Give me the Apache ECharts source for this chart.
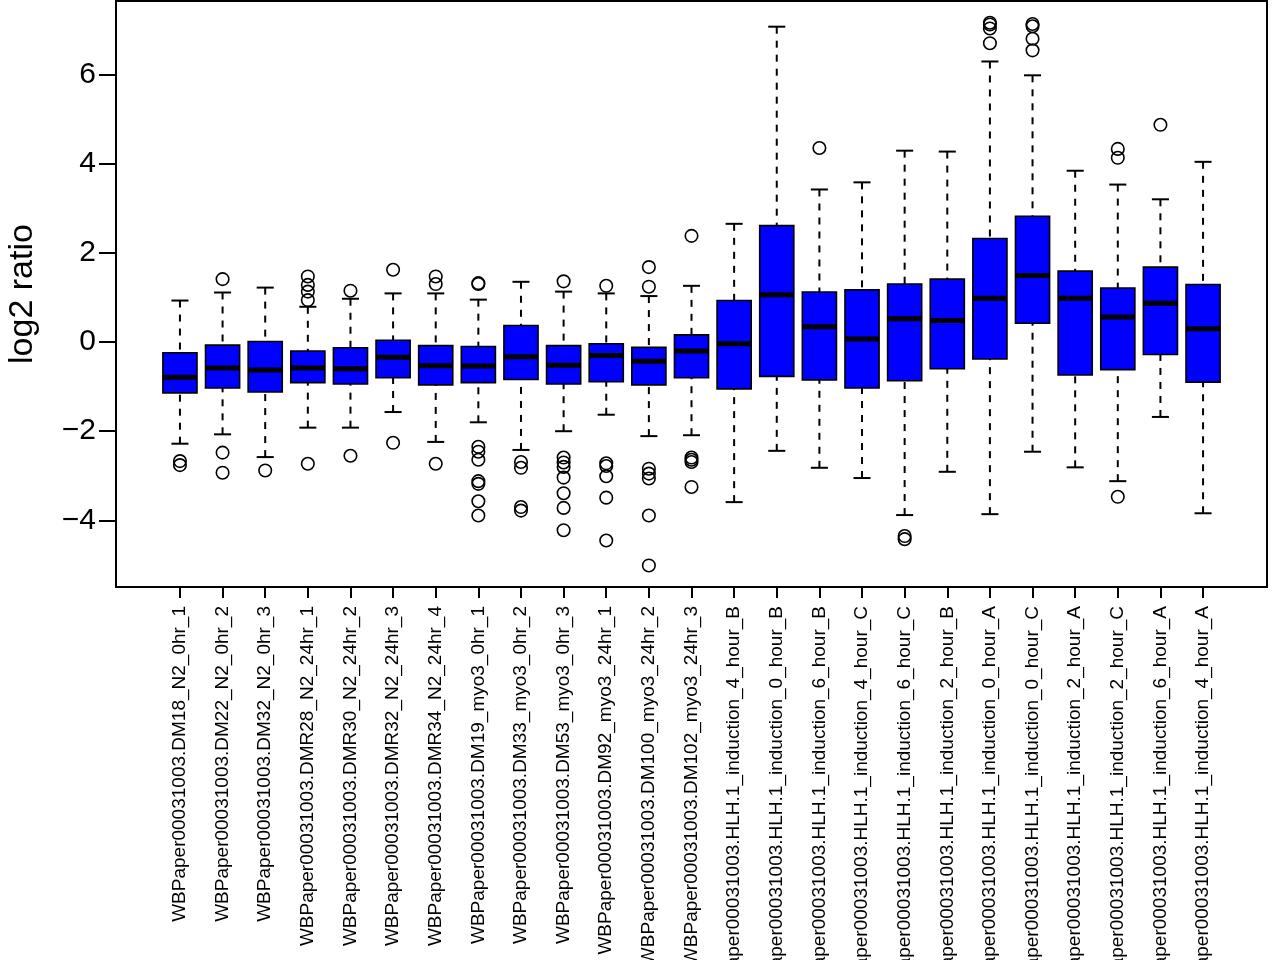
<!DOCTYPE html>
<html>
<head>
<meta charset="utf-8">
<script src="https://cdn.jsdelivr.net/npm/echarts@6.0.0/dist/echarts.min.js"></script>
<style>
html,body{margin:0;padding:0;background:#fff;}
#chart{width:1277px;height:960px;}
</style>
</head>
<body>
<div id="chart"></div>
<script>
var categories = [
  "WBPaper00031003.DM18_N2_0hr_1",
  "WBPaper00031003.DM22_N2_0hr_2",
  "WBPaper00031003.DM32_N2_0hr_3",
  "WBPaper00031003.DMR28_N2_24hr_1",
  "WBPaper00031003.DMR30_N2_24hr_2",
  "WBPaper00031003.DMR32_N2_24hr_3",
  "WBPaper00031003.DMR34_N2_24hr_4",
  "WBPaper00031003.DM19_myo3_0hr_1",
  "WBPaper00031003.DM33_myo3_0hr_2",
  "WBPaper00031003.DM53_myo3_0hr_3",
  "WBPaper00031003.DM92_myo3_24hr_1",
  "WBPaper00031003.DM100_myo3_24hr_2",
  "WBPaper00031003.DM102_myo3_24hr_3",
  "WBPaper00031003.HLH.1_induction_4_hour_B",
  "WBPaper00031003.HLH.1_induction_0_hour_B",
  "WBPaper00031003.HLH.1_induction_6_hour_B",
  "WBPaper00031003.HLH.1_induction_4_hour_C",
  "WBPaper00031003.HLH.1_induction_6_hour_C",
  "WBPaper00031003.HLH.1_induction_2_hour_B",
  "WBPaper00031003.HLH.1_induction_0_hour_A",
  "WBPaper00031003.HLH.1_induction_0_hour_C",
  "WBPaper00031003.HLH.1_induction_2_hour_A",
  "WBPaper00031003.HLH.1_induction_2_hour_C",
  "WBPaper00031003.HLH.1_induction_6_hour_A",
  "WBPaper00031003.HLH.1_induction_4_hour_A"
];
var whiskerLow  = [-2.28,-2.07,-2.58,-1.92,-1.92,-1.57,-2.24,-1.80,-2.42,-2.00,-1.63,-2.11,-2.09,-3.59,-2.44,-2.82,-3.05,-3.88,-2.91,-3.86,-2.46,-2.81,-3.12,-1.68,-3.84];
var quart1      = [-1.14,-1.03,-1.12,-0.91,-0.94,-0.80,-0.96,-0.91,-0.84,-0.94,-0.89,-0.96,-0.80,-1.05,-0.77,-0.85,-1.03,-0.87,-0.60,-0.38, 0.42,-0.74,-0.62,-0.28,-0.90];
var medians     = [-0.79,-0.58,-0.63,-0.58,-0.60,-0.34,-0.53,-0.54,-0.33,-0.52,-0.30,-0.43,-0.20,-0.04, 1.06, 0.34, 0.07, 0.52, 0.48, 0.98, 1.49, 0.98, 0.56, 0.87, 0.30];
var quart3      = [-0.24,-0.07, 0.01,-0.20,-0.13, 0.04,-0.08,-0.10, 0.37,-0.08,-0.04,-0.12, 0.16, 0.93, 2.61, 1.12, 1.17, 1.30, 1.41, 2.32, 2.82, 1.59, 1.21, 1.68, 1.29];
var whiskerHigh = [ 0.93, 1.11, 1.22, 0.79, 0.97, 1.09, 1.09, 0.95, 1.35, 1.13, 1.09, 1.03, 1.26, 2.65, 7.07, 3.42, 3.58, 4.29, 4.27, 6.29, 5.98, 3.84, 3.53, 3.20, 4.04];
var outliers = [
  [-2.67,-2.76],
  [1.41,-2.48,-2.93],
  [-2.88],
  [1.47,1.28,1.13,0.94,-2.73],
  [1.15,-2.55],
  [1.62,-2.26],
  [1.47,1.30,-2.73],
  [1.32,1.30,-2.35,-2.46,-2.64,-3.12,-3.18,-3.57,-3.89],
  [-2.69,-2.82,-3.70,-3.78],
  [1.36,-2.59,-2.70,-2.80,-3.04,-3.39,-3.72,-4.22],
  [1.26,-2.72,-2.78,-3.01,-3.49,-4.45],
  [1.68,1.24,-2.84,-2.95,-3.06,-3.89,-5.01],
  [2.38,-2.59,-2.64,-2.69,-3.25],
  [],
  [],
  [4.35],
  [],
  [-4.35,-4.42],
  [],
  [7.16,7.12,7.03,6.70],
  [7.13,7.08,6.80,6.54],
  [],
  [4.33,4.13,-3.47],
  [4.87],
  []
];
var yTicks = [-4,-2,0,2,4,6];

// Category slots: one empty slot each side so boxes sit at R positions 1..n inside a padded range
var axisCats = [''].concat(categories).concat(['']);

var boxData = categories.map(function(c, i){
  return [i+1, whiskerLow[i], quart1[i], medians[i], quart3[i], whiskerHigh[i]];
});
var outData = [];
outliers.forEach(function(arr, i){
  arr.forEach(function(v){ outData.push([i+1, v]); });
});

function fmt(v){ return v < 0 ? '\u2212' + Math.abs(v) : String(v); }

var FONT = 'Liberation Sans, Arial, sans-serif';
var chart = echarts.init(document.getElementById('chart'), null, {renderer:'canvas'});
chart.setOption({
  animation: false,
  backgroundColor: '#ffffff',
  textStyle: {fontFamily: FONT, color: '#000'},
  grid: {left: 116, right: 10, top: 1, bottom: 373, containLabel: false, outerBoundsMode: 'none',
    show: true, borderColor: '#000', borderWidth: 2, backgroundColor: 'transparent'},
  xAxis: {
    type: 'category',
    data: axisCats,
    boundaryGap: true,
    axisLine: {show: true, onZero: false, lineStyle: {color: '#000', width: 2}},
    axisTick: {show: true, alignWithLabel: true, length: 11, lineStyle: {color: '#000', width: 2},
      interval: function(idx, val){ return val !== ''; }},
    axisLabel: {interval: 0, rotate: 90, margin: 19, fontSize: 19, color: '#000', fontFamily: FONT},
    splitLine: {show: false}
  },
  yAxis: {
    type: 'value',
    min: -5.493,
    max: 7.646,
    name: 'log2 ratio',
    nameLocation: 'middle',
    nameRotate: 90,
    nameGap: 76,
    nameTextStyle: {fontSize: 34, color: '#000', fontFamily: FONT},
    axisLine: {show: true, lineStyle: {color: '#000', width: 2}},
    axisTick: {show: true, length: 17, lineStyle: {color: '#000', width: 2}, customValues: yTicks},
    axisLabel: {customValues: yTicks, formatter: fmt, margin: 20, fontSize: 30, color: '#000', fontFamily: FONT},
    splitLine: {show: false}
  },
  series: [
    {
      type: 'custom',
      silent: true,
      encode: {x: 0, y: [1,2,3,4,5]},
      data: boxData,
      renderItem: function(params, api){
        var xi = api.value(0);
        var lo = api.coord([xi, api.value(1)]);
        var b1 = api.coord([xi, api.value(2)]);
        var md = api.coord([xi, api.value(3)]);
        var b3 = api.coord([xi, api.value(4)]);
        var hi = api.coord([xi, api.value(5)]);
        var bw = api.size([1, 0])[0] * 0.8;
        var cx = md[0];
        var cap = bw * 0.5;
        var dashStyle = {stroke: '#000', lineWidth: 2, lineDash: [7, 7], fill: null};
        var solid = {stroke: '#000', lineWidth: 2, fill: null};
        return {
          type: 'group',
          children: [
            {type: 'line', shape: {x1: cx, y1: hi[1], x2: cx, y2: b3[1]}, style: dashStyle},
            {type: 'line', shape: {x1: cx, y1: lo[1], x2: cx, y2: b1[1]}, style: dashStyle},
            {type: 'line', shape: {x1: cx - cap/2, y1: hi[1], x2: cx + cap/2, y2: hi[1]}, style: solid},
            {type: 'line', shape: {x1: cx - cap/2, y1: lo[1], x2: cx + cap/2, y2: lo[1]}, style: solid},
            {type: 'rect', shape: {x: cx - bw/2, y: b3[1], width: bw, height: b1[1] - b3[1]},
              style: {fill: '#0000ff', stroke: '#000', lineWidth: 1.6}},
            {type: 'line', shape: {x1: cx - bw/2, y1: md[1], x2: cx + bw/2, y2: md[1]},
              style: {stroke: '#000', lineWidth: 5}}
          ]
        };
      }
    },
    {
      type: 'scatter',
      silent: true,
      data: outData,
      symbol: 'circle',
      symbolSize: 12.5,
      itemStyle: {color: 'rgba(0,0,0,0)', borderColor: '#000', borderWidth: 1.6, opacity: 1}
    }
  ]
});
</script>
</body>
</html>
